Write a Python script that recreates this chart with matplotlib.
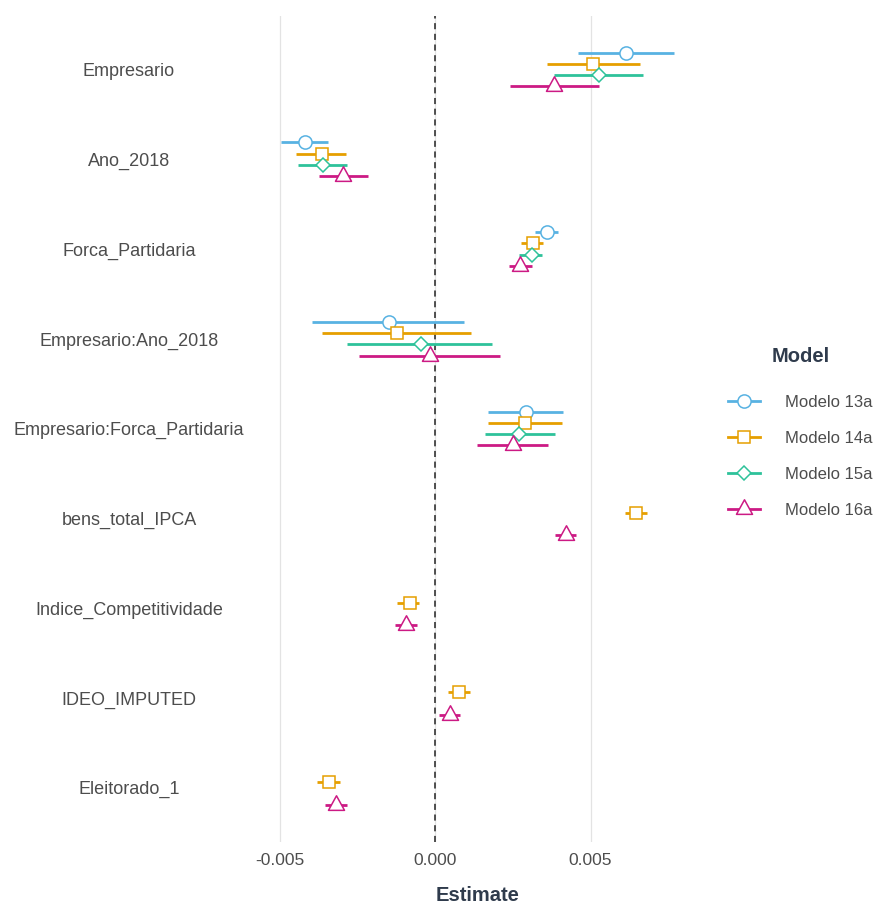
import numpy as np
import matplotlib
matplotlib.use("Agg")
import matplotlib.pyplot as plt
from matplotlib.lines import Line2D
from matplotlib.path import Path

plt.rcParams["font.family"] = ["Liberation Sans", "DejaVu Sans"]

nan = np.nan

terms = ["Empresario", "Ano_2018", "Forca_Partidaria", "Empresario:Ano_2018",
         "Empresario:Forca_Partidaria", "bens_total_IPCA", "Indice_Competitividade",
         "IDEO_IMPUTED", "Eleitorado_1"]

models = ["Modelo 13a", "Modelo 14a", "Modelo 15a", "Modelo 16a"]

m13_est = [0.00616, -0.00419, 0.00360, -0.00151, 0.00291, nan, nan, nan, nan]
m13_lo = [0.00460, -0.00499, 0.00320, -0.00398, 0.00168, nan, nan, nan, nan]
m13_hi = [0.00769, -0.00345, 0.00396, 0.00092, 0.00412, nan, nan, nan, nan]

m14_est = [0.00508, -0.00365, 0.00315, -0.00123, 0.00290, 0.00648, -0.00083, 0.00076, -0.00344]
m14_lo = [0.00360, -0.00448, 0.00277, -0.00366, 0.00168, 0.00611, -0.00124, 0.00041, -0.00381]
m14_hi = [0.00659, -0.00289, 0.00347, 0.00116, 0.00408, 0.00683, -0.00054, 0.00111, -0.00309]

m15_est = [0.00528, -0.00363, 0.00310, -0.00047, 0.00270, nan, nan, nan, nan]
m15_lo = [0.00383, -0.00443, 0.00270, -0.00284, 0.00159, nan, nan, nan, nan]
m15_hi = [0.00668, -0.00285, 0.00344, 0.00181, 0.00387, nan, nan, nan, nan]

m16_est = [0.00382, -0.00298, 0.00272, -0.00018, 0.00250, 0.00420, -0.00094, 0.00046, -0.00322]
m16_lo = [0.00242, -0.00375, 0.00237, -0.00247, 0.00135, 0.00387, -0.00129, 0.00012, -0.00357]
m16_hi = [0.00527, -0.00217, 0.00310, 0.00207, 0.00363, 0.00453, -0.00058, 0.00078, -0.00285]

x_ticks = [-0.005, 0.000, 0.005]
x_ticklabels = ["-0.005", "0.000", "0.005"]

colors = ["#58B2E2", "#E69F00", "#2EC29A", "#CC1A84"]

# open triangle centred on its centroid, like ggplot's shape 2
tri = Path([(0, 2 / 3), (-0.55, -1 / 3), (0.55, -1 / 3), (0, 2 / 3)],
           [Path.MOVETO, Path.LINETO, Path.LINETO, Path.CLOSEPOLY])
markers = ["o", "s", "D", tri]
msizes = [9.5, 8.8, 7.6, 14.0]

est = [m13_est, m14_est, m15_est, m16_est]
lo = [m13_lo, m14_lo, m15_lo, m16_lo]
hi = [m13_hi, m14_hi, m15_hi, m16_hi]

fig = plt.figure(figsize=(8.78, 9.07), dpi=100)
W, H = 878, 907
left, right, top, bottom = 261, 693.6, 15.6, 841.6
ax = fig.add_axes([left / W, 1 - bottom / H, (right - left) / W, (bottom - top) / H])

text_col = "#4D4D4D"
title_col = "#2F3B4C"

# grid + reference line
for xt in x_ticks:
    ax.axvline(xt, color="#E3E3E3", lw=0.9, zorder=0)
ax.axvline(0, color="#222222", lw=1.1, ls=(0, (4, 3)), zorder=1)

ypos = np.arange(len(terms), dtype=float)
dodge = 0.125
for j in range(len(models)):
    e = np.array(est[j], dtype=float)
    l = np.array(lo[j], dtype=float)
    h = np.array(hi[j], dtype=float)
    ok = ~np.isnan(e)
    y = ypos[ok] + (j - 1.5) * dodge
    ax.hlines(y, l[ok], h[ok], color=colors[j], lw=2.0, zorder=2)
    ax.plot(e[ok], y, ls="none", marker=markers[j], ms=msizes[j],
            mfc="white", mec=colors[j], mew=1.1, zorder=3)

all_lo = np.nanmin(np.concatenate([np.array(a, dtype=float) for a in lo]))
all_hi = np.nanmax(np.concatenate([np.array(a, dtype=float) for a in hi]))
span = all_hi - all_lo
ax.set_xlim(all_lo - 0.05 * span, all_hi + 0.05 * span)
ax.set_ylim(len(terms) - 1 + 0.6, -0.6)

ax.set_xticks(x_ticks)
ax.set_xticklabels(x_ticklabels, fontsize=12.5, color=text_col)
ax.set_yticks(ypos)
ax.set_yticklabels(terms, fontsize=13, color=text_col, ha="center")
ax.tick_params(axis="y", length=0, pad=95)
ax.tick_params(axis="x", length=0, pad=8)
for s in ax.spines.values():
    s.set_visible(False)
ax.set_xlabel("Estimate", fontsize=14.5, fontweight="bold", color=title_col, labelpad=13)

handles = [Line2D([], [], color=colors[j], lw=2.0, marker=markers[j], ms=msizes[j],
                  mfc="white", mec=colors[j], mew=1.1) for j in range(len(models))]
leg = fig.legend(handles, models, loc="upper left", bbox_to_anchor=(728 / W, 1 - 347 / H),
                 frameon=False, fontsize=12, title="Model", numpoints=1,
                 handlelength=1.95, handletextpad=1.5, labelspacing=1.25,
                 borderpad=0, borderaxespad=0)
leg.get_title().set_fontsize(14.5)
leg.get_title().set_fontweight("bold")
leg.get_title().set_color(title_col)
leg._legend_box.sep = 21
for t in leg.get_texts():
    t.set_color(text_col)

fig.savefig("out.png", dpi=100, facecolor="white")
